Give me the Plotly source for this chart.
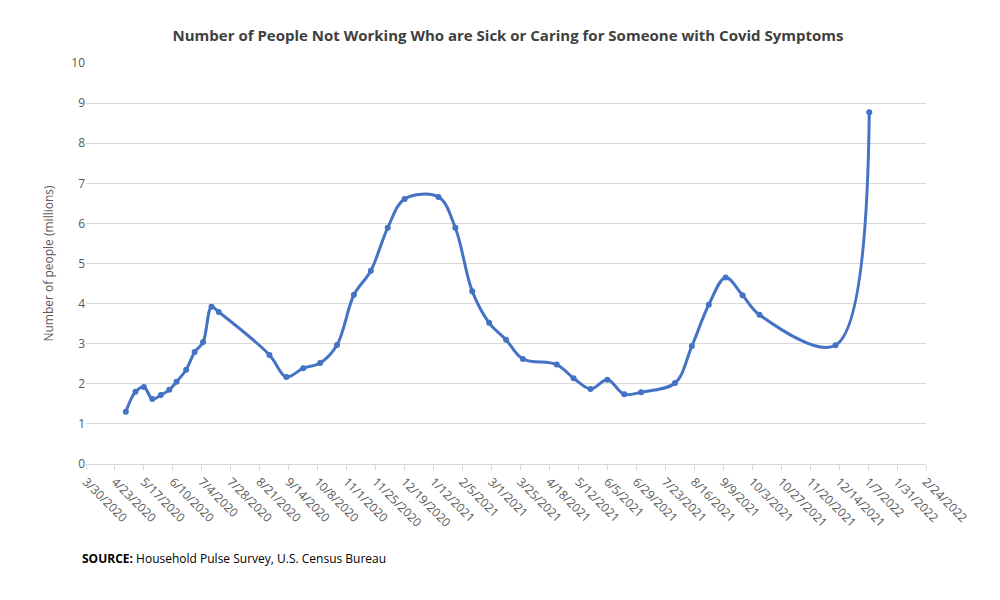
import plotly.graph_objects as go
import datetime as dt

dates = ["2020-05-02","2020-05-10","2020-05-17","2020-05-24","2020-05-31","2020-06-07","2020-06-13",
         "2020-06-21","2020-06-28","2020-07-05","2020-07-12","2020-07-18","2020-08-29","2020-09-12",
         "2020-09-26","2020-10-10","2020-10-24","2020-11-07","2020-11-21","2020-12-05","2020-12-19",
         "2021-01-16","2021-01-30","2021-02-13","2021-02-27","2021-03-13","2021-03-27","2021-04-24",
         "2021-05-08","2021-05-22","2021-06-05","2021-06-19","2021-07-03","2021-07-31","2021-08-14",
         "2021-08-28","2021-09-11","2021-09-25","2021-10-09","2021-12-11","2022-01-08"]
values = [1.30,1.80,1.92,1.62,1.72,1.85,2.05,2.35,2.79,3.04,3.92,3.79,2.72,2.17,2.39,2.52,2.97,
          4.22,4.82,5.89,6.61,6.66,5.89,4.31,3.52,3.10,2.62,2.48,2.14,1.87,2.10,1.74,1.79,2.02,
          2.94,3.97,4.65,4.21,3.72,2.96,8.77]

start = dt.date(2020, 3, 30)
tick_dates = [start + dt.timedelta(days=24 * i) for i in range(30)]
tick_vals = [d.isoformat() for d in tick_dates]
tick_text = [f"{d.month}/{d.day}/{d.year}" for d in tick_dates]

fig = go.Figure(go.Scatter(
    x=dates, y=values, mode="lines+markers", line_shape="spline",
    line=dict(color="#4472C4", width=3), marker=dict(color="#4472C4", size=6)))

fig.update_layout(
    width=1000, height=600, paper_bgcolor="white", plot_bgcolor="white",
    margin=dict(l=78, r=82, t=55, b=144),
    font=dict(family="Open Sans, Liberation Sans, sans-serif", color="#595959", size=12),
    title=dict(text="<b>Number of People Not Working Who are Sick or Caring for Someone with Covid Symptoms</b>",
               x=0.5, xanchor="center", y=0.953, yanchor="middle", font=dict(size=15, color="#404040")),
    showlegend=False,
)
fig.update_xaxes(range=[tick_vals[0], tick_vals[-1]], tickvals=tick_vals, ticktext=tick_text,
                 tickangle=45, showgrid=False, showline=True, linecolor="#d9d9d9",
                 ticks="outside", tickcolor="#d9d9d9", ticklen=5, tickfont=dict(size=12))
fig.update_yaxes(range=[0, 10], dtick=1, showgrid=True, gridcolor="#d9d9d9", zeroline=False,
                 title=dict(text="Number of people (millions)", font=dict(size=12)), tickfont=dict(size=12))
fig.add_annotation(text="<b>SOURCE:</b> Household Pulse Survey, U.S. Census Bureau",
                   xref="paper", yref="paper", x=-0.007, y=-0.235, xanchor="left", yanchor="middle",
                   showarrow=False, font=dict(size=12, color="black"), align="left")
fig.write_html("out.html")
